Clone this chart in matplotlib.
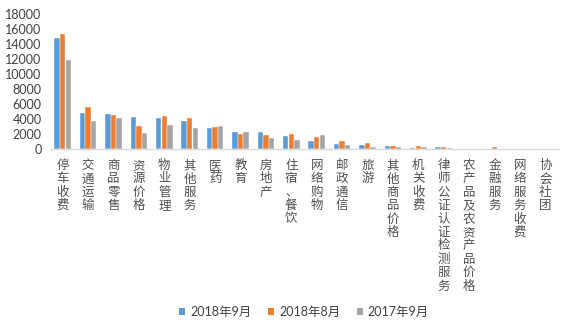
import matplotlib
matplotlib.use("Agg")
import matplotlib.pyplot as plt
from matplotlib.patches import Patch
import numpy as np

plt.rcParams['font.family'] = ['Lato', 'Noto Sans CJK SC', 'DejaVu Sans']

categories = ["停车收费", "交通运输", "商品零售", "资源价格", "物业管理", "其他服务",
              "医药", "教育", "房地产", "住宿、餐饮", "网络购物", "邮政通信", "旅游",
              "其他商品价格", "机关收费", "律师公证认证检测服务", "农产品及农资产品价格",
              "金融服务", "网络服务收费", "协会社团"]
sep_2018 = [14800, 4790, 4700, 4250, 4160, 3800, 2830, 2300, 2260, 1770, 1100, 730,
            510, 420, 230, 300, 0, 0, 0, 0]
aug_2018 = [15330, 5670, 4560, 3100, 4390, 4120, 2970, 2030, 1950, 2030, 1640, 1050,
            880, 460, 460, 330, 0, 250, 0, 0]
sep_2017 = [11870, 3720, 4160, 2130, 3230, 2870, 3100, 2300, 1500, 1200, 1900, 570,
            300, 290, 290, 180, 0, 0, 0, 0]
series_names = ["2018年9月", "2018年8月", "2017年9月"]
colors = ["#5B9BD5", "#ED7D31", "#A5A5A5"]
yticks = list(range(0, 18001, 2000))

fig = plt.figure(figsize=(5.62, 3.32), dpi=100)
ax = fig.add_axes([50 / 562, 1 - 149.3 / 332, 508 / 562, (149.3 - 14) / 332])

x = np.arange(len(categories))
w = 0.21
step = 0.22
for k, (vals, c) in enumerate(zip([sep_2018, aug_2018, sep_2017], colors)):
    ax.bar(x + (k - 1) * step, vals, width=w, color=c, edgecolor="white",
           linewidth=0.3)

ax.set_xlim(-0.5, len(categories) - 0.5)
ax.set_ylim(0, 18000)
ax.set_yticks(yticks)
ax.set_yticklabels([str(v) for v in yticks], fontsize=9, color="#404040")
ax.tick_params(axis="y", length=0, pad=6)
ax.tick_params(axis="x", length=0, pad=7)
ax.set_xticks(x)
ax.set_xticklabels(["\n".join(c) for c in categories], fontsize=9,
                   color="#505050", va="top", linespacing=1.04,
                   family=['Noto Sans CJK SC', 'DejaVu Sans'])
for s in ["top", "right", "left"]:
    ax.spines[s].set_visible(False)
ax.spines["bottom"].set_color("#D9D9D9")
ax.spines["bottom"].set_linewidth(1.0)

handles = [Patch(facecolor=c, edgecolor="none") for c in colors]
fig.legend(handles, series_names, loc="center", ncol=3,
           bbox_to_anchor=(304 / 562, 1 - 312 / 332), frameon=False,
           fontsize=9, handlelength=0.5, handleheight=0.5, handletextpad=0.4,
           columnspacing=1.3, labelcolor="#404040")

fig.savefig("out.png", dpi=100)
